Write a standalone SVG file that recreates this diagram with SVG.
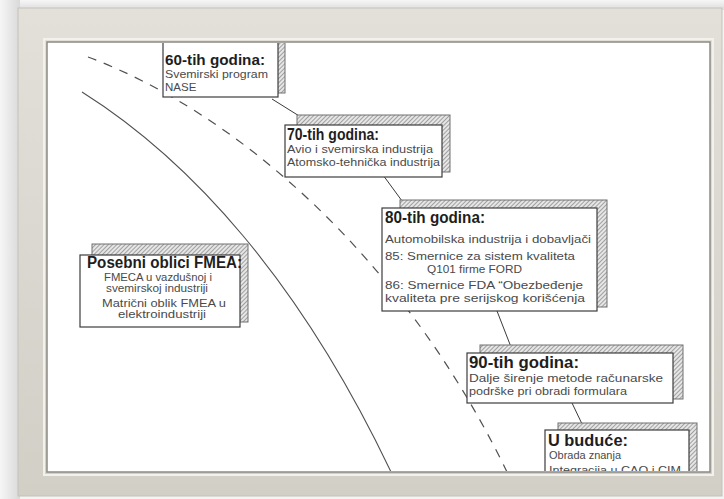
<svg xmlns="http://www.w3.org/2000/svg" width="724" height="499" viewBox="0 0 724 499">
  <defs>
    <linearGradient id="frameFill" x1="0" y1="0" x2="0" y2="1">
      <stop offset="0" stop-color="#e2e0d9"/>
      <stop offset="1" stop-color="#d2cfc7"/>
    </linearGradient>
    <linearGradient id="shadeTop" x1="0" y1="0" x2="0" y2="1">
      <stop offset="0" stop-color="#f6f6f6"/>
      <stop offset="1" stop-color="#dcdcdc"/>
    </linearGradient>
    <linearGradient id="shadeLeft" x1="0" y1="0" x2="1" y2="0">
      <stop offset="0" stop-color="#f6f6f6"/>
      <stop offset="1" stop-color="#d9d9d9"/>
    </linearGradient>
    <pattern id="hatch" width="3" height="3" patternUnits="userSpaceOnUse" patternTransform="rotate(45)">
      <rect width="3" height="3" fill="#e6e6e6"/>
      <rect width="1" height="3" fill="#a0a0a0"/>
    </pattern>
    <clipPath id="sheet">
      <rect x="48" y="43" width="661" height="428"/>
    </clipPath>
    <style>
      .back { fill: url(#hatch); stroke: #707070; stroke-width: 1; }
      .front { fill: #ffffff; stroke: #3c3c3c; stroke-width: 1.2; }
      .head { font-family: "Liberation Sans", Arial, sans-serif; font-weight: bold; fill: #1e1e1e; }
      .body { font-family: "Liberation Sans", Arial, sans-serif; font-size: 11.5px; fill: #4a4a4a; }
      .small { font-size: 10.5px; }
      .mid { text-anchor: middle; }
      .link { fill: none; stroke: #3a3a3a; stroke-width: 1; }
      .arc { fill: none; stroke: #505050; stroke-width: 1.1; }
      .arc-dash { fill: none; stroke: #505050; stroke-width: 1.2; stroke-dasharray: 9 8; }
    </style>
  </defs>

  <!-- page background and soft shadow of the frame -->
  <rect width="724" height="499" fill="#f4f4f4"/>
  <rect x="0" y="0" width="724" height="10" fill="url(#shadeTop)"/>
  <rect x="0" y="0" width="20" height="499" fill="url(#shadeLeft)"/>

  <!-- frame -->
  <rect x="18" y="8" width="704" height="488" fill="url(#frameFill)" stroke="#c4c1b8" stroke-width="1"/>
  <rect x="44" y="39" width="669" height="436" fill="none" stroke="#f2f1ec" stroke-width="2"/>
  <rect x="47" y="42" width="663" height="430" fill="#ffffff" stroke="#8c8a84" stroke-width="1.5"/>

  <g clip-path="url(#sheet)">
    <!-- connectors and the two sweeping curves -->
    <g id="connectors">
      <path class="arc" d="M82,92 C190,160 300,280 392,474"/>
      <path class="arc-dash" d="M88,57 C230,110 400,250 508,474"/>
      <path class="link" d="M272,99 L312,124"/>
      <path class="link" d="M383,175 L405,205"/>
      <path class="link" d="M497,311 L511,347"/>
      <path class="link" d="M572,403 L583,426"/>
    </g>

    <g id="node-60">
      <rect class="back" x="175" y="33" width="110" height="60"/>
      <rect class="front" x="163" y="40" width="115" height="57"/>
      <text class="head" x="165" y="65" font-size="15" textLength="100" lengthAdjust="spacingAndGlyphs">60-tih godina:</text>
      <text class="body" x="165" y="78" textLength="103" lengthAdjust="spacingAndGlyphs">Svemirski program</text>
      <text class="body" x="165" y="91">NASE</text>
    </g>

    <g id="node-70">
      <rect class="back" x="297" y="115" width="153" height="57"/>
      <rect class="front" x="285" y="125" width="157" height="52"/>
      <text class="head" x="287" y="140" font-size="16" textLength="92" lengthAdjust="spacingAndGlyphs">70-tih godina:</text>
      <text class="body" x="287" y="153" textLength="146" lengthAdjust="spacingAndGlyphs">Avio i svemirska industrija</text>
      <text class="body" x="287" y="166" textLength="153" lengthAdjust="spacingAndGlyphs">Atomsko-tehnička industrija</text>
    </g>

    <g id="node-80">
      <rect class="back" x="400" y="200" width="207" height="107"/>
      <rect class="front" x="382" y="208" width="215" height="103"/>
      <text class="head" x="385" y="223" font-size="16" textLength="100" lengthAdjust="spacingAndGlyphs">80-tih godina:</text>
      <text class="body" x="385" y="243" textLength="206" lengthAdjust="spacingAndGlyphs">Automobilska industrija i dobavljači</text>
      <text class="body" x="385" y="260" textLength="190" lengthAdjust="spacingAndGlyphs">85: Smernice za sistem kvaliteta</text>
      <text class="body small" x="427" y="273" textLength="95" lengthAdjust="spacingAndGlyphs">Q101 firme FORD</text>
      <text class="body" x="385" y="289" textLength="198" lengthAdjust="spacingAndGlyphs">86: Smernice FDA “Obezbeđenje</text>
      <text class="body" x="385" y="302" textLength="200" lengthAdjust="spacingAndGlyphs">kvaliteta pre serijskog korišćenja</text>
    </g>

    <g id="node-posebni">
      <rect class="back" x="92" y="244" width="156" height="78"/>
      <rect class="front" x="80" y="255" width="160" height="72"/>
      <text class="head" x="87" y="268" font-size="16" textLength="155" lengthAdjust="spacingAndGlyphs">Posebni oblici FMEA:</text>
      <text class="body small mid" x="158" y="281" textLength="108" lengthAdjust="spacingAndGlyphs">FMECA u vazdušnoj i</text>
      <text class="body small mid" x="157" y="292" textLength="102" lengthAdjust="spacingAndGlyphs">svemirskoj industriji</text>
      <text class="body small mid" x="164" y="307" textLength="124" lengthAdjust="spacingAndGlyphs">Matrični oblik FMEA u</text>
      <text class="body small mid" x="162" y="318" textLength="88" lengthAdjust="spacingAndGlyphs">elektroindustriji</text>
    </g>

    <g id="node-90">
      <rect class="back" x="480" y="345" width="203" height="54"/>
      <rect class="front" x="467" y="353" width="206" height="50"/>
      <text class="head" x="469" y="368" font-size="17" textLength="110" lengthAdjust="spacingAndGlyphs">90-tih godina:</text>
      <text class="body" x="469" y="382" textLength="194" lengthAdjust="spacingAndGlyphs">Dalje širenje metode računarske</text>
      <text class="body" x="469" y="395" textLength="158" lengthAdjust="spacingAndGlyphs">podrške pri obradi formulara</text>
    </g>

    <g id="node-buduce">
      <rect class="back" x="558" y="423" width="139" height="70"/>
      <rect class="front" x="545" y="430" width="144" height="60"/>
      <text class="head" x="548" y="446" font-size="17" textLength="80" lengthAdjust="spacingAndGlyphs">U buduće:</text>
      <text class="body" x="549" y="459" textLength="72" lengthAdjust="spacingAndGlyphs">Obrada znanja</text>
      <text class="body" x="549" y="474" textLength="132" lengthAdjust="spacingAndGlyphs">Integracija u CAQ i CIM</text>
    </g>
  </g>
</svg>
